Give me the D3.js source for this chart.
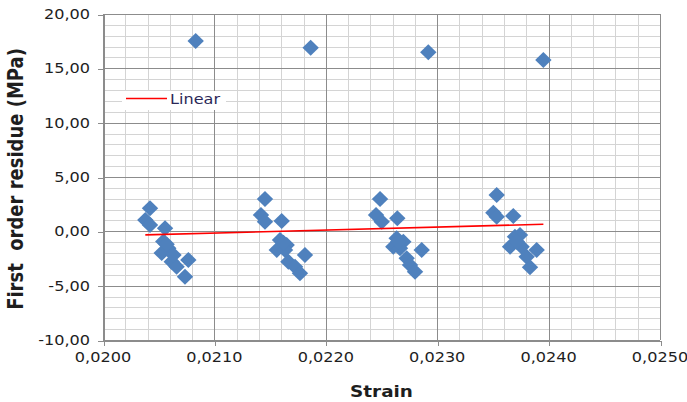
<!DOCTYPE html>
<html>
<head>
<meta charset="utf-8">
<script src="https://cdn.jsdelivr.net/npm/d3@7"></script>
<style>
  html, body { margin: 0; padding: 0; background: #fff; }
  svg { display: block; }
</style>
</head>
<body>
<svg id="chart" width="687" height="402"></svg>
<script>
// Measured points: strain (x) and first order residue in MPa (y)
const strain = [
  0.020832, 0.021864, 0.022920, 0.023953,
  0.020422, 0.020380, 0.020422, 0.020557, 0.020541, 0.020527, 0.020586,
  0.020617, 0.020661, 0.020766, 0.020736, 0.020633, 0.020571,
  0.021454, 0.021418, 0.021454, 0.021604, 0.021589, 0.021560, 0.021649,
  0.021664, 0.021724, 0.021813, 0.021768, 0.021634, 0.021620,
  0.022487, 0.022451, 0.022502, 0.022642, 0.022636, 0.022606, 0.022696,
  0.022726, 0.022756, 0.022861, 0.022801, 0.022666, 0.022650,
  0.023534, 0.023504, 0.023534, 0.023683, 0.023698, 0.023654, 0.023743,
  0.023758, 0.023803, 0.023893, 0.023833, 0.023715
];
const residue = [
  17.52, 16.90, 16.48, 15.77,
  2.13, 1.05, 0.59, 0.29, -0.94, -2.00, -1.55,
  -2.79, -3.25, -2.63, -4.17, -2.17, -1.20,
  2.98, 1.51, 0.89, 0.96, -0.79, -1.71, -1.25,
  -2.79, -3.25, -2.17, -3.86, -1.71, -1.05,
  2.98, 1.51, 0.89, 1.20, -0.64, -1.41, -0.95,
  -2.48, -3.09, -1.71, -3.71, -1.56, -0.95,
  3.35, 1.72, 1.35, 1.42, -0.49, -1.41, -0.33,
  -1.41, -2.33, -1.71, -3.30, -0.95
];

// Linear trendline end points
const trendStrain = [0.020380, 0.023953];
const trendResidue = [-0.33, 0.65];

// Axis ticks
const xTicks = [0.0200, 0.0210, 0.0220, 0.0230, 0.0240, 0.0250];
const yTicks = [-10, -5, 0, 5, 10, 15, 20];
const xMinorStep = 0.0002;
const yMinorStep = 1;

const legendLabel = "Linear";
const xTitle = "Strain";
const yTitle = "First  order residue (MPa)";

const W = 687, H = 402;
const plot = { left: 103, right: 660, top: 14, bottom: 340 };
const stretch = 1.15;
const font = "'DejaVu Sans', Verdana, sans-serif";

const svg = d3.select("#chart");

const x = d3.scaleLinear().domain([0.0200, 0.0250]).range([plot.left, plot.right]);
const y = d3.scaleLinear().domain([-10, 20]).range([plot.bottom, plot.top]);

const fmt = (v, d) => v.toFixed(d).replace(".", ",");

// Minor grid
const xMinor = d3.range(0, 26).map(i => 0.0200 + i * xMinorStep);
const yMinor = d3.range(-10, 21, yMinorStep);

const grid = svg.append("g").attr("shape-rendering", "crispEdges");
grid.selectAll("line.xm").data(xMinor).join("line")
  .attr("x1", d => Math.round(x(d)) + 0.5).attr("x2", d => Math.round(x(d)) + 0.5)
  .attr("y1", plot.top).attr("y2", plot.bottom)
  .attr("stroke", "#d4d4d4").attr("stroke-width", 1);
grid.selectAll("line.ym").data(yMinor).join("line")
  .attr("y1", d => Math.round(y(d)) + 0.5).attr("y2", d => Math.round(y(d)) + 0.5)
  .attr("x1", plot.left).attr("x2", plot.right)
  .attr("stroke", "#d4d4d4").attr("stroke-width", 1);

// Major grid
grid.selectAll("line.xM").data(xTicks).join("line")
  .attr("x1", d => Math.round(x(d)) + 0.5).attr("x2", d => Math.round(x(d)) + 0.5)
  .attr("y1", plot.top).attr("y2", plot.bottom)
  .attr("stroke", "#8c8c8c").attr("stroke-width", 1);
grid.selectAll("line.yM").data(yTicks).join("line")
  .attr("y1", d => Math.round(y(d)) + 0.5).attr("y2", d => Math.round(y(d)) + 0.5)
  .attr("x1", plot.left).attr("x2", plot.right)
  .attr("stroke", "#8c8c8c").attr("stroke-width", 1);

// Axes (lines + tick marks via d3 axis)
const yAxis = d3.axisLeft(y).tickValues(yTicks).tickSize(6).tickFormat("");
const xAxis = d3.axisBottom(x).tickValues(xTicks).tickSize(5).tickFormat("");
const ya = svg.append("g").attr("transform", `translate(${plot.left + 0.5},0.5)`).call(yAxis);
const xa = svg.append("g").attr("transform", `translate(0.5,${plot.bottom + 0.5})`).call(xAxis);
[ya, xa].forEach(g => {
  g.attr("shape-rendering", "crispEdges");
  g.selectAll("path, line").attr("stroke", "#8c8c8c");
});

// Tick labels
svg.append("g").selectAll("text").data(yTicks).join("text")
  .attr("transform", d => `translate(90,${y(d) + 5}) scale(${stretch},1)`)
  .attr("text-anchor", "end")
  .attr("font-family", font).attr("font-size", 14).attr("fill", "#1e1e1e")
  .text(d => fmt(d, 2));

svg.append("g").selectAll("text").data(xTicks).join("text")
  .attr("transform", d => `translate(${x(d)},${362}) scale(${stretch},1)`)
  .attr("text-anchor", "middle")
  .attr("font-family", font).attr("font-size", 14).attr("fill", "#1e1e1e")
  .text(d => fmt(d, 4));

// Axis titles
svg.append("text")
  .attr("transform", `translate(${(plot.left + plot.right) / 2},397) scale(${stretch},1)`)
  .attr("text-anchor", "middle")
  .attr("font-family", font).attr("font-size", 16).attr("font-weight", "bold").attr("fill", "#1e1e1e")
  .text(xTitle);

svg.append("text")
  .attr("transform", `translate(23,${(plot.top + plot.bottom) / 2 + 2}) rotate(-90) scale(1,${stretch})`)
  .attr("text-anchor", "middle")
  .attr("font-family", font).attr("font-size", 18).attr("font-weight", "bold").attr("fill", "#1e1e1e")
  .attr("xml:space", "preserve")
  .style("white-space", "pre")
  .text(yTitle);

// Data markers (diamonds)
const points = strain.map((s, i) => ({ s, r: residue[i] }));
const hw = 8.2, hh = 8;
svg.append("g").selectAll("path").data(points).join("path")
  .attr("d", d => {
    const cx = x(d.s), cy = y(d.r);
    return `M${cx},${cy - hh}L${cx + hw},${cy}L${cx},${cy + hh}L${cx - hw},${cy}Z`;
  })
  .attr("fill", "#4f81bd");

// Linear trendline
const line = d3.line().x(d => x(d[0])).y(d => y(d[1]));
svg.append("path")
  .datum(trendStrain.map((s, i) => [s, trendResidue[i]]))
  .attr("d", line)
  .attr("fill", "none").attr("stroke", "#ff0000").attr("stroke-width", 1.6);

// Legend
const lg = svg.append("g");
lg.append("rect").attr("x", 122).attr("y", 91).attr("width", 104).attr("height", 19).attr("fill", "#fff");
lg.append("line").attr("x1", 126).attr("x2", 167).attr("y1", 98.5).attr("y2", 98.5)
  .attr("stroke", "#ff0000").attr("stroke-width", 1.6);
lg.append("text")
  .attr("transform", `translate(170,104) scale(${stretch},1)`)
  .attr("font-family", font).attr("font-size", 14).attr("fill", "#2b2857")
  .text(legendLabel);
</script>
</body>
</html>
